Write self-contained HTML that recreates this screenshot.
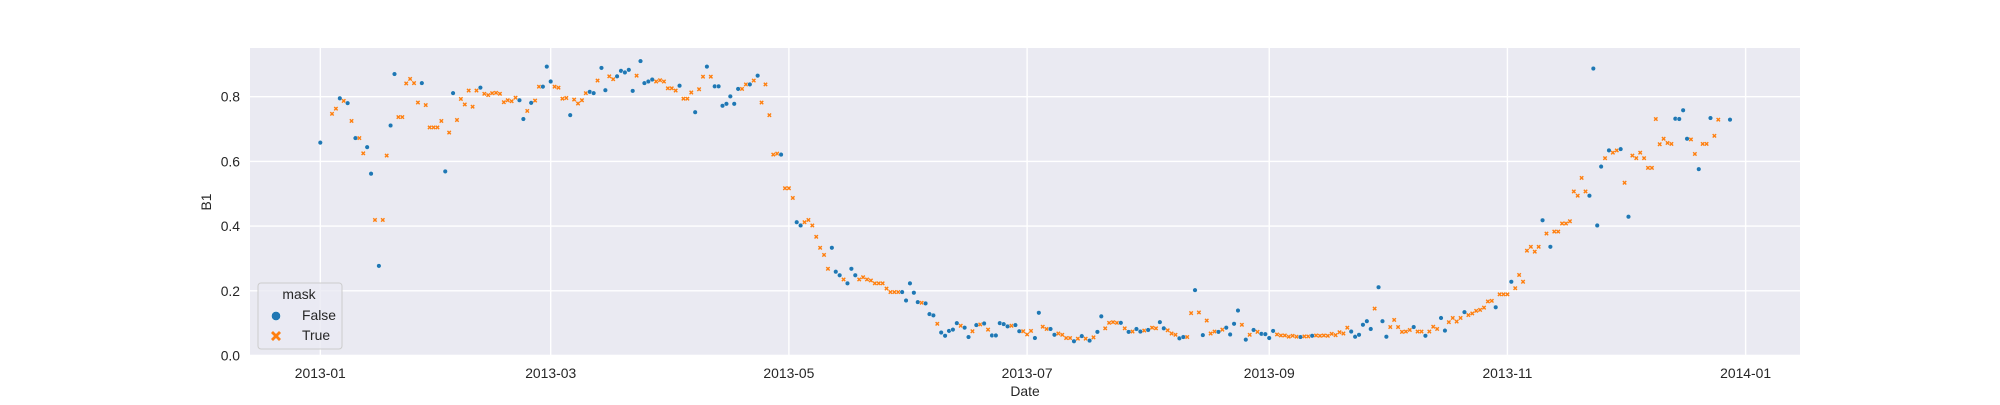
<!DOCTYPE html>
<html><head><meta charset="utf-8"><style>
body{margin:0;background:#fff;}
svg text{font-family:"Liberation Sans",Arial,sans-serif;fill:#262626;}
</style></head><body>
<svg id="chart" width="2000" height="400" xmlns="http://www.w3.org/2000/svg">
<rect x="250" y="48" width="1550" height="308" fill="#EAEAF2"/>
<g id="grid"></g>
<g id="ticks"></g>
<g id="points"></g>
<text x="211" y="202" font-size="13.9" text-anchor="middle" transform="rotate(-90 211 202)">B1</text>
<text x="1025" y="396" font-size="13.9" text-anchor="middle">Date</text>
<g>
<rect x="258" y="283" width="84" height="66" rx="3" fill="#EAEAF2" fill-opacity="0.8" stroke="#CCCCCC" stroke-width="1"/>
<text x="299" y="299" font-size="13.9" text-anchor="middle">mask</text>
<circle cx="276" cy="316" r="4.6" fill="#1f77b4" stroke="#fff" stroke-width="0.5"/>
<text x="302" y="320" font-size="13.9">False</text>
<path d="M271,333 L273,331 L276,334 L279,331 L281,333 L278,336 L281,339 L279,341 L276,338 L273,341 L271,339 L274,336 Z" fill="#ff7f0e"/>
<text x="302" y="340" font-size="13.9">True</text>
</g>
</svg>
<script>
const days=[0,3,4,5,6,7,8,9,10,11,12,13,14,15,16,17,18,19,20,21,22,23,24,25,26,27,28,29,30,31,32,33,34,35,36,37,38,39,40,41,42,43,44,45,46,47,48,49,50,51,52,53,54,55,56,57,58,59,60,61,62,63,64,65,66,67,68,69,70,71,72,73,74,75,76,77,78,79,80,81,82,83,84,85,86,87,88,89,90,91,92,93,94,95,96,97,98,99,100,101,102,103,104,105,106,107,108,109,110,111,112,113,114,115,116,117,118,119,120,121,122,123,124,125,126,127,128,129,130,131,132,133,134,135,136,137,138,139,140,141,142,143,144,145,146,147,148,149,150,151,152,153,154,155,156,157,158,159,160,161,162,163,164,165,166,167,168,169,170,171,172,173,174,175,176,177,178,179,180,181,182,183,184,185,186,187,188,189,190,191,192,193,194,195,196,197,198,199,200,201,202,203,204,205,206,207,208,209,210,211,212,213,214,215,216,217,218,219,220,221,222,223,224,225,226,227,228,229,230,231,232,233,234,235,236,237,238,239,240,241,242,243,244,245,246,247,248,249,250,251,252,253,254,255,256,257,258,259,260,261,262,263,264,265,266,267,268,269,270,271,272,273,274,275,276,277,278,279,280,281,282,283,284,285,286,287,288,289,290,291,292,293,294,295,296,297,298,299,300,301,302,303,304,305,306,307,308,309,310,311,312,313,314,315,316,317,318,319,320,321,322,323,324,325,326,327,328,329,330,331,332,333,334,335,336,337,338,339,340,341,342,343,344,345,346,347,348,349,350,351,352,353,354,355,356,357,358,361];
const values=[.658,.747,.763,.795,.787,.780,.725,.672,.672,.625,.644,.562,.419,.277,.419,.618,.711,.870,.737,.737,.841,.855,.842,.782,.842,.774,.705,.705,.705,.725,.569,.689,.811,.728,.793,.776,.819,.769,.819,.828,.809,.805,.811,.812,.809,.783,.789,.786,.797,.789,.731,.756,.781,.788,.831,.831,.893,.847,.831,.828,.794,.796,.743,.791,.779,.789,.811,.815,.811,.850,.889,.820,.863,.854,.863,.880,.875,.883,.818,.865,.910,.842,.847,.853,.847,.851,.847,.826,.826,.819,.834,.794,.794,.813,.752,.823,.862,.893,.862,.832,.832,.772,.778,.801,.778,.824,.824,.838,.838,.850,.865,.782,.838,.743,.621,.624,.621,.517,.517,.487,.412,.402,.412,.419,.402,.367,.333,.311,.268,.333,.259,.248,.235,.223,.268,.248,.235,.242,.235,.232,.223,.223,.223,.207,.196,.196,.196,.196,.170,.223,.194,.165,.163,.161,.128,.124,.098,.071,.061,.076,.080,.100,.092,.086,.057,.075,.094,.096,.099,.080,.062,.062,.100,.097,.090,.092,.094,.075,.075,.065,.076,.054,.132,.089,.082,.082,.064,.068,.064,.054,.054,.044,.052,.060,.052,.046,.056,.073,.121,.084,.101,.103,.101,.101,.084,.073,.074,.082,.074,.077,.079,.086,.084,.103,.084,.078,.068,.064,.053,.057,.057,.131,.202,.133,.063,.108,.068,.074,.073,.080,.086,.065,.098,.139,.095,.049,.064,.079,.073,.067,.066,.054,.076,.065,.062,.062,.058,.061,.058,.057,.059,.059,.061,.062,.061,.062,.061,.067,.063,.072,.068,.086,.074,.058,.064,.095,.106,.082,.145,.211,.106,.058,.088,.110,.088,.073,.074,.079,.088,.074,.074,.061,.074,.089,.082,.116,.077,.103,.116,.105,.116,.134,.125,.130,.138,.141,.148,.167,.169,.149,.189,.189,.189,.228,.208,.249,.228,.324,.336,.321,.336,.418,.377,.336,.383,.383,.408,.408,.415,.507,.494,.549,.507,.494,.887,.402,.584,.610,.634,.627,.634,.638,.534,.429,.618,.610,.627,.610,.580,.580,.731,.653,.670,.657,.654,.732,.731,.758,.670,.668,.623,.576,.654,.654,.734,.679,.729,.729];
const masksJanJul="FTTFTFTFTT"+"FFTFTTFFTT"+"TTTTFTTTTT"+"FTFTTTTTTF"+"TTTTTTTTTF"+"FTFTTFFFTT"+"TTFTTTTFFT"+"FFTTFFFFFT"+"FFFFTTTTTT"+"FTTTFTTFTF"+"FFFFFFTTFT"+"FTTTTTFTTT"+"FFTTTTTTTF"+"FFTFFFTTTT"+"TTTTTTTFFF"+"FFTFFFTFFF"+"FFTFFTFTFT"+"FFFFFTFFTT"+"T";
const masksJulSep="FFTTFFTTTT"+"FTFTFTFFTT"+"TTFTFTFFTF"+"TTFFTTTFFT"+"TFTFTTTFTF"+"FFFTFTFTFF"+"FF";
const masksSepNov="TTTTTT"+"F"+"TT"+"F"+"TTTTTTTTT"+"FFFFFF"+"T"+"FFF"+"TTTTTT"+"F"+"TT"+"F"+"TTT"+"FF"+"TTTT"+"F"+"TTTTTTT"+"F"+"TTT"+"F"+"TT";
const masksNovDec="TTTTT"+"F"+"T"+"F"+"TTTTTTTTT"+"FFFF"+"T"+"F"+"TT"+"F"+"T"+"F"+"TTTTTTTTTTT"+"FFFF"+"TT"+"F"+"TT"+"F"+"TT"+"F";
const masks=masksJanJul+masksJulSep+masksSepNov+masksNovDec;
const xTickDays=[0,59,120,181,243,304,365];
const xTickLabels=["2013-01","2013-03","2013-05","2013-07","2013-09","2013-11","2014-01"];
const yTickValues=[0,0.2,0.4,0.6,0.8];
const yTickLabels=["0.0","0.2","0.4","0.6","0.8"];
</script>
<script>
const NS="http://www.w3.org/2000/svg";
function xs(d){return 320.3+d*3.905;}
function ys(v){return 355.5-v*323.5;}
const grid=document.getElementById('grid'),ticks=document.getElementById('ticks'),pts=document.getElementById('points');
function mk(tag,attrs,parent){const e=document.createElementNS(NS,tag);for(const k in attrs)e.setAttribute(k,attrs[k]);parent.appendChild(e);return e;}
xTickDays.forEach((d,i)=>{
  const l=mk('line',{x1:xs(d),x2:xs(d),y1:48,y2:356,stroke:'#fff','stroke-width':1.4},grid);
  
  
  const t=mk('text',{x:xs(d),y:378,'font-size':13.9,'text-anchor':'middle'},ticks);
  t.textContent=xTickLabels[i];
  
  
});
yTickValues.forEach((v,i)=>{
  const l=mk('line',{x1:250,x2:1800,y1:ys(v),y2:ys(v),stroke:'#fff','stroke-width':1.4},grid);
  
  
  const t=mk('text',{x:240,y:ys(v)+5,'font-size':13.9,'text-anchor':'end'},ticks);
  t.textContent=yTickLabels[i];
  
  
});
days.forEach((d,i)=>{
  const x=xs(d),y=ys(values[i]);
  let e;
  if(masks[i]==='F'){
    e=mk('circle',{cx:x,cy:y,r:2.3,fill:'#1f77b4',stroke:'#fff','stroke-width':0.4},pts);
  }else{
    const s=1.0,a=2.2;
    e=mk('path',{d:`M${x-a},${y-a+s}L${x-a+s},${y-a}L${x},${y-s}L${x+a-s},${y-a}L${x+a},${y-a+s}L${x+s},${y}L${x+a},${y+a-s}L${x+a-s},${y+a}L${x},${y+s}L${x-a+s},${y+a}L${x-a},${y+a-s}L${x-s},${y}Z`,fill:'#ff7f0e'},pts);
  }
  
  
});
</script>
</body></html>
